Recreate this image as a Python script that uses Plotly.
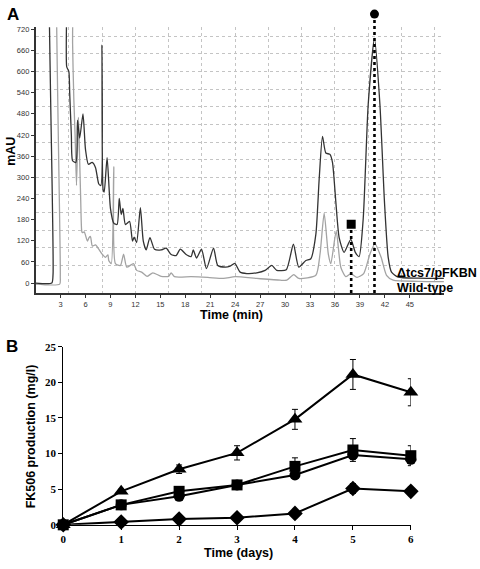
import plotly.graph_objects as go

# ---------------- Panel A data (HPLC chromatogram) ----------------
dark_time = [0, 1.95, 2.1, 2.2, 3.65, 3.74, 4.0, 4.1, 4.3, 4.45, 4.85, 5.04, 5.3, 5.7, 6.0, 6.35, 6.8, 7.2, 7.6,
             7.85, 7.98, 8.12, 8.25, 8.6, 9.0, 9.4, 9.8, 10.06, 10.3, 10.5, 10.8, 11.3, 11.65, 11.85, 12.15, 12.6,
             12.95, 13.3, 13.75, 14.3, 15.1, 15.7, 16.3, 16.9, 17.4, 18.1, 18.7, 18.96, 19.35, 19.95, 20.55, 21.4,
             21.9, 22.85, 23.4, 23.95, 24.6, 25.4, 26.6, 27.6, 28.4, 29.0, 30.15, 31.0, 31.65, 32.5, 33.1, 33.7,
             34.1, 34.5, 34.9, 35.4, 35.7, 36.1, 36.5, 37.1, 37.9, 38.45, 38.9, 39.4, 40.0, 40.75, 41.4, 41.95,
             42.4, 42.8, 43.6, 46.0, 49.1]
dark_mau = [0, 0, 25, 1800, 1800, 614, 600, 540, 420, 347, 342, 462, 411, 480, 379, 337, 342, 328, 281,
            277, 675, 265, 258, 356, 212, 170, 166, 240, 194, 212, 166, 175, 119, 130, 115, 214,
            119, 94, 129, 96, 94, 99, 81, 78, 96, 81, 75, 94, 71, 96, 41, 99,
            50, 45, 48, 56, 31, 27, 29, 36, 50, 36, 38, 110, 45, 64, 69, 138,
            295, 416, 369, 365, 342, 231, 129, 87, 124, 87, 75, 184, 508, 694, 508, 231,
            73, 31, 17, 14, 13]

light_time = [0, 2.9, 2.97, 3.05, 4.2, 4.45, 4.6, 4.75, 4.92, 5.15, 5.25, 5.43, 5.55, 5.63, 5.85, 6.23, 6.43,
              6.6, 6.82, 7.2, 7.6, 8.0, 8.4, 8.7, 8.8, 9.1, 9.4, 9.6, 10.2, 10.58, 10.97, 11.77, 12.16, 12.75,
              13.4, 14.1, 15.1, 16.0, 16.3, 16.7, 18.7, 20.7, 22.6, 24.0, 26.6, 29.4, 30.2, 31.05, 31.65, 33.7,
              34.2, 34.7, 35.2, 35.5, 36.15, 36.7, 37.3, 37.9, 38.65, 39.45, 40.2, 40.8, 41.55, 42.2, 43.0,
              46.0, 49.1]
light_mau = [-3, -3, 20, 1800, 1800, 680, 520, 420, 277, 470, 397, 231, 147, 143, 145, 119, 129,
             132, 105, 108, 96, 82, 73, 80, 64, 55, 330, 55, 50, 82, 45, 55, 36, 31,
             19, 29, 19, 19, 29, 18, 18, 16, 13, 18, 13, 8, 8, 24, 13, 22,
             82, 198, 82, 55, 147, 45, 18, 27, 16, 27, 82, 112, 73, 22, 8,
             5, 4]

a_xticks = [3, 6, 9, 12, 15, 18, 21, 24, 27, 30, 33, 36, 39, 42, 45]
a_yticks = [0, 60, 120, 180, 240, 300, 360, 420, 480, 540, 600, 660, 720]
a_xgrid = [4, 8, 12, 16, 20, 24, 28, 32, 36, 40, 44, 48]
a_ygrid = [50, 100, 150, 200, 250, 300, 350, 400, 450, 500, 550, 600, 650, 700]

# peak markers: (retention time, marker height in mAU)
square_peak = (37.95, 167)
circle_peak = (40.75, 763)

# ---------------- Panel B data (FK506 production) ----------------
days = [0, 1, 2, 3, 4, 5, 6]
tri_vals = [0, 4.7, 7.8, 10.1, 14.8, 21.1, 18.6]
tri_err = [0, 0.3, 0.6, 1.0, 1.4, 2.1, 1.9]
sq_vals = [0, 2.8, 4.7, 5.6, 8.2, 10.5, 9.7]
sq_err = [0, 0.3, 0.4, 0.5, 1.2, 1.6, 1.4]
circ_vals = [0, 2.8, 4.0, 5.6, 7.0, 9.8, 9.2]
circ_err = [0, 0.2, 0.3, 0.4, 0.5, 0.6, 0.6]
dia_vals = [0, 0.4, 0.8, 1.0, 1.6, 5.1, 4.7]
dia_err = [0, 0.1, 0.1, 0.2, 0.3, 0.7, 0.6]
b_yticks = [0, 5, 10, 15, 20, 25]

W, H = 480, 569


def px(xpix):
    return xpix / W


def py(ypix):
    return 1 - ypix / H


A_xrange = [0, 49.1]
A_yrange = [-28, 726]

fig = go.Figure()

fig.add_trace(go.Scatter(x=light_time, y=light_mau, mode="lines",
                         line=dict(color="#a3a3a3", width=1.3, shape="spline", smoothing=0.6),
                         xaxis="x", yaxis="y", showlegend=False, hoverinfo="skip"))
fig.add_trace(go.Scatter(x=dark_time, y=dark_mau, mode="lines",
                         line=dict(color="#333333", width=1.3, shape="spline", smoothing=0.6),
                         xaxis="x", yaxis="y", showlegend=False, hoverinfo="skip"))
# dummy traces to activate grid overlay axes
fig.add_trace(go.Scatter(x=[None], y=[None], xaxis="x3", yaxis="y", showlegend=False, hoverinfo="skip"))
fig.add_trace(go.Scatter(x=[None], y=[None], xaxis="x", yaxis="y3", showlegend=False, hoverinfo="skip"))

# Panel B series
series = [
    (tri_vals, tri_err, "triangle-up", 13),
    (sq_vals, sq_err, "square", 11),
    (circ_vals, circ_err, "circle", 11),
    (dia_vals, dia_err, "diamond", 12),
]
for vals, err, sym, size in series:
    fig.add_trace(go.Scatter(
        x=days, y=vals, mode="lines+markers", xaxis="x2", yaxis="y2",
        line=dict(color="black", width=2),
        marker=dict(symbol=sym, size=size, color="black"),
        error_y=dict(type="data", array=err, color="black", thickness=1, width=3),
        cliponaxis=False, showlegend=False, hoverinfo="skip"))

tick_font_a = dict(family="Arial, Liberation Sans", size=7.5, color="#333333")
grid_col = "#c4c4c4"

A_xdom = [px(33), px(446.5)]
A_ydom = [py(293.1), py(21.6)]
B_xdom = [px(61), px(413)]
B_ydom = [py(530), py(348)]

serif_bold = dict(family="Liberation Serif, Times New Roman", size=11, color="black", weight="bold")

fig.update_layout(
    width=W, height=H, margin=dict(l=0, r=0, t=0, b=0),
    paper_bgcolor="white", plot_bgcolor="rgba(0,0,0,0)",
    xaxis=dict(domain=A_xdom, range=A_xrange, anchor="y", tickmode="array", tickvals=a_xticks,
               ticks="outside", ticklen=3, tickcolor="#333", tickfont=tick_font_a,
               showline=True, linecolor="#333", linewidth=1.5, showgrid=False, zeroline=False),
    yaxis=dict(domain=A_ydom, range=A_yrange, anchor="x", tickmode="array", tickvals=a_yticks,
               ticks="outside", ticklen=3, tickcolor="#333", tickfont=tick_font_a,
               showline=True, linecolor="#333", linewidth=1.5, showgrid=False, zeroline=False),
    xaxis3=dict(overlaying="x", anchor="y", range=A_xrange, tickmode="array", tickvals=a_xgrid,
                showticklabels=False, ticks="", showgrid=True, gridcolor=grid_col, griddash="dot",
                gridwidth=1, showline=False, zeroline=False),
    yaxis3=dict(overlaying="y", anchor="x", range=A_yrange, tickmode="array", tickvals=a_ygrid,
                showticklabels=False, ticks="", showgrid=True, gridcolor=grid_col, griddash="dot",
                gridwidth=1, showline=False, zeroline=False),
    xaxis2=dict(domain=B_xdom, range=[0, 6], anchor="y2", tickmode="array", tickvals=days,
                ticks="outside", ticklen=4, tickcolor="black", tickfont=serif_bold,
                showline=True, linecolor="black", linewidth=1.3, showgrid=False, zeroline=False),
    yaxis2=dict(domain=B_ydom, range=[0, 25], anchor="x2", tickmode="array", tickvals=b_yticks,
                ticks="outside", ticklen=4, tickcolor="black", tickfont=serif_bold,
                showline=True, linecolor="black", linewidth=1.3, showgrid=False, zeroline=False),
)


def dom_frac(v):
    return (v - A_yrange[0]) / (A_yrange[1] - A_yrange[0])


shapes = []
for (t, v), kind in [(square_peak, "rect"), (circle_peak, "circle")]:
    shapes.append(dict(type="line", xref="x", yref="y domain", x0=t, x1=t, y0=0, y1=dom_frac(v),
                       line=dict(color="black", width=2.6, dash="dot")))
    shapes.append(dict(type=kind, xref="x", yref="y domain", xsizemode="pixel", ysizemode="pixel",
                       xanchor=t, yanchor=dom_frac(v), x0=-4.5, x1=4.5, y0=-4.5, y1=4.5,
                       fillcolor="black", line=dict(color="black", width=0)))
fig.update_layout(shapes=shapes)

bold_sans = dict(family="Arial, Liberation Sans", size=12.5, color="black", weight="bold")
ann = [
    dict(text="A", x=px(2), y=py(9), xanchor="left", yanchor="middle",
         font=dict(family="Arial, Liberation Sans", size=17, color="black", weight="bold")),
    dict(text="B", x=px(1), y=py(348), xanchor="left", yanchor="middle",
         font=dict(family="Arial, Liberation Sans", size=17, color="black", weight="bold")),
    dict(text="mAU", x=px(8), y=py(148), xanchor="center", yanchor="middle", textangle=-90,
         font=bold_sans),
    dict(text="Time (min)", x=px(231), y=py(316), xanchor="center", yanchor="middle", font=bold_sans),
    dict(text="Δtcs7/pFKBN", x=px(397), y=py(273), xanchor="left", yanchor="middle", font=bold_sans),
    dict(text="Wild-type", x=px(397), y=py(288), xanchor="left", yanchor="middle", font=bold_sans),
    dict(text="FK506 production (mg/l)", x=px(28), y=py(440), xanchor="center", yanchor="middle",
         textangle=-90, font=bold_sans),
    dict(text="Time (days)", x=px(238), y=py(559), xanchor="center", yanchor="middle", font=bold_sans),
]
for a in ann:
    a.update(xref="paper", yref="paper", showarrow=False)
fig.update_layout(annotations=ann)

# remove the browser's default 8px page margin so the 480x569 figure fills the window exactly
fig.write_html("out.html", config={"displayModeBar": False},
               post_script="document.body.style.margin='0px';")
